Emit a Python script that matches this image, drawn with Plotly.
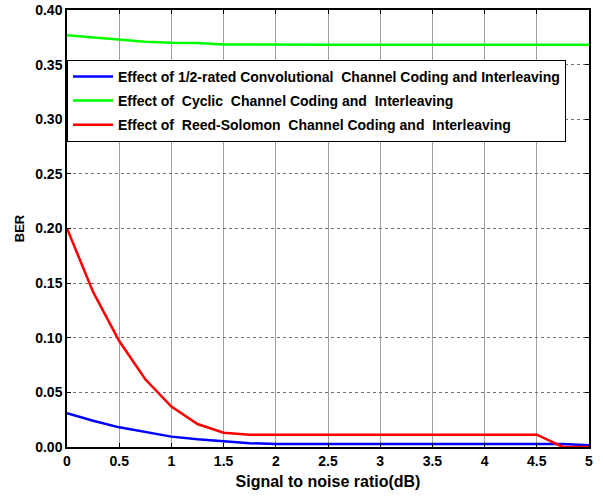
import plotly.graph_objects as go

snr = [0, 0.25, 0.5, 0.75, 1, 1.25, 1.5, 1.75, 2, 2.25, 2.5, 2.75, 3, 3.25, 3.5, 3.75, 4, 4.25, 4.5, 4.75, 5]
ber_conv = [0.031, 0.024, 0.018, 0.014, 0.0095, 0.007, 0.005, 0.0035, 0.0027, 0.0027, 0.0027, 0.0027, 0.0027,
            0.0027, 0.0027, 0.0027, 0.0027, 0.0027, 0.0027, 0.0027, 0.0015]
ber_cyclic = [0.377, 0.375, 0.3725, 0.371, 0.370, 0.3698, 0.3685, 0.3683, 0.3683, 0.3683, 0.3683, 0.3683, 0.3683,
              0.3683, 0.3683, 0.3683, 0.3683, 0.3683, 0.3683, 0.3683, 0.3683]
ber_rs = [0.200, 0.142, 0.097, 0.062, 0.037, 0.021, 0.013, 0.0113, 0.0113, 0.0113, 0.0113, 0.0113, 0.0113,
          0.0113, 0.0113, 0.0113, 0.0113, 0.0113, 0.0113, 0.0, 0.0]

names = ["Effect of 1/2-rated Convolutional  Channel Coding and Interleaving",
         "Effect of  Cyclic  Channel Coding and  Interleaving",
         "Effect of  Reed-Solomon  Channel Coding and  Interleaving"]
colors = ["#0000ff", "#00ff00", "#ff0000"]

x_ticks = [0, 0.5, 1, 1.5, 2, 2.5, 3, 3.5, 4, 4.5, 5]
x_tick_labels = ["0", "0.5", "1", "1.5", "2", "2.5", "3", "3.5", "4", "4.5", "5"]
y_ticks = [0, 0.05, 0.10, 0.15, 0.20, 0.25, 0.30, 0.35, 0.40]

FAM = "Arial, Liberation Sans, sans-serif"

fig = go.Figure()
for i, (ys, nm, c) in enumerate(zip([ber_conv, ber_cyclic, ber_rs], names, colors)):
    fig.add_trace(go.Scatter(x=snr, y=ys, mode="lines", name=nm, legendgroup=f"g{i}",
                             line=dict(color=c, width=2.5)))

fig.update_layout(
    width=603, height=497,
    margin=dict(l=67, r=14, t=10, b=50, autoexpand=False),
    paper_bgcolor="white", plot_bgcolor="white",
    font=dict(family=FAM, size=12, color="black"),
    showlegend=True,
    legend=dict(x=0, y=0.886, xanchor="left", yanchor="top",
                bgcolor="white", bordercolor="black", borderwidth=1,
                font=dict(family=FAM, size=14, color="black", weight="bold"),
                tracegroupgap=3, itemwidth=40),
    xaxis=dict(range=[0, 5], tickvals=x_ticks, ticktext=x_tick_labels, automargin=False,
               showgrid=True, gridcolor="#a0a0a0", gridwidth=1,
               showline=True, linecolor="black", linewidth=1.5, mirror="ticks",
               ticks="inside", ticklen=4, tickcolor="black",
               tickfont=dict(family=FAM, size=14, color="black", weight="bold"),
               title=dict(text="Signal to noise ratio(dB)", standoff=8,
                          font=dict(family=FAM, size=16, color="black", weight="bold")),
               zeroline=False),
    yaxis=dict(range=[0, 0.40], tickvals=y_ticks, tickformat=".2f", automargin=False,
               showgrid=True, gridcolor="#707070", gridwidth=1, griddash="dot",
               showline=True, linecolor="black", linewidth=1.5, mirror="ticks",
               ticks="inside", ticklen=4, tickcolor="black",
               tickfont=dict(family=FAM, size=14, color="black", weight="bold"),
               title=dict(text="BER", standoff=8,
                          font=dict(family=FAM, size=13, color="black", weight="bold")),
               zeroline=False),
)
fig.write_html("out.html")
